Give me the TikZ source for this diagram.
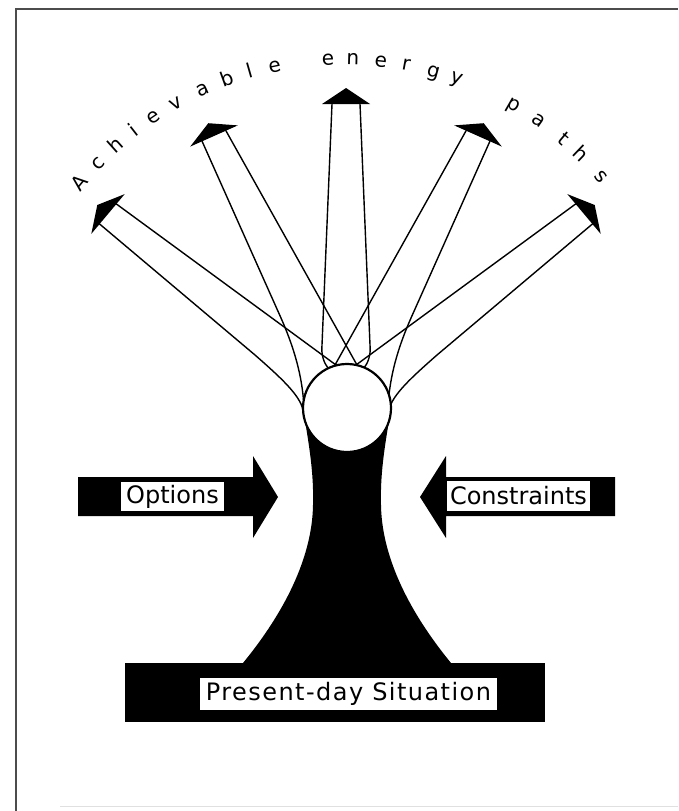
\documentclass[tikz,border=0pt]{standalone}
\usepackage{fontspec}
\setmainfont{DejaVu Sans}
\begin{document}
\begin{tikzpicture}[x=1pt,y=-1pt,
  shaft/.style={line width=1.4pt, line cap=round, line join=round},
  headfill/.style={fill=black},
  solid black/.style={fill=black},
  lblbox/.style={fill=white, inner sep=0pt, font=\fontsize{24}{26}\selectfont},
  arcletter/.style={inner sep=0pt, anchor=base, font=\fontsize{20}{22}\selectfont}
]
\useasboundingbox (0,0) rectangle (678,811);
\fill[white] (0,0) rectangle (678,811);
% frame
\draw[line width=2pt, black!70] (16,811) -- (16,9) -- (678,9);
\draw[line width=0.8pt, black!12] (60,806) -- (678,806);

% trunk
\fill[black] (303,408) .. controls (308,440) and (314,470) .. (313,505)
  .. controls (312,570) and (270,630) .. (243,663)
  -- (451,663)
  .. controls (424,630) and (382,570) .. (381,505)
  .. controls (380,470) and (386,440) .. (391,408) -- cycle;
% base bar
\fill[black] (125,663) rectangle (545,722);

% shafts - outer lines
\draw[shaft] (99.6,224) -- (255,355) .. controls (280,377) and (300,395) .. (303,410);
\draw[shaft] (202.1,141.3) -- (281,318) .. controls (292,343) and (301,370) .. (303.5,400);
\draw[shaft] (592.4,224) -- (437,355) .. controls (412,377) and (392,395) .. (389,410);
\draw[shaft] (489.9,141.3) -- (411,318) .. controls (400,343) and (391,370) .. (388.5,400);
% inner lines
\draw[shaft] (116.4,204) -- (336,365);
\draw[shaft] (575.6,204) -- (356,365);
\draw[shaft] (225.9,130.7) -- (357,365);
\draw[shaft] (466.1,130.7) -- (335,365);
% centre lines
\draw[shaft] (332,104) -- (322,345) .. controls (321,355) and (324,363) .. (328,368);
\draw[shaft] (360,104) -- (370,345) .. controls (371,355) and (368,363) .. (364,368);

% present circle
\draw[fill=white, line width=2.2pt] (347,408) circle[radius=44];

% arrow heads
\fill[headfill] (124.7,194.1) -- (97.3,205) -- (91.3,233.9) -- cycle;
\fill[headfill] (237.8,125.4) -- (208.3,123.2) -- (190.2,146.6) -- cycle;
\fill[headfill] (322,104) -- (346,88) -- (370,104) -- cycle;
\fill[headfill] (454.2,125.4) -- (483.7,123.2) -- (501.8,146.6) -- cycle;
\fill[headfill] (567.3,194.1) -- (594.7,205) -- (600.7,233.9) -- cycle;

% side arrows
\fill[solid black] (78,477) -- (253,477) -- (253,456) -- (278,497) -- (253,538) -- (253,516) -- (78,516) -- cycle;
\fill[solid black] (615,477) -- (446,477) -- (446,456) -- (420,497) -- (446,538) -- (446,516) -- (615,516) -- cycle;

% labels
\node[lblbox, minimum width=103pt, minimum height=29pt] (opt) at (172.5,496.5) {Options};
\node[lblbox, minimum width=143pt, minimum height=30pt] (con) at (518.5,496) {Constraints};
\node[lblbox, minimum width=297pt, minimum height=32pt] (pre) at (348.5,694)
  {\addfontfeature{LetterSpace=6}Present-day Situation};

% arc title
\foreach \ch/\a [count=\i] in {A/140.4, c/136.0, h/131.8, i/127.8, e/124.0, v/119.4, a/114.5, b/109.9, l/106.0, e/101.7,
  e/92.7, n/88.5, e/83.8, r/79.5, g/74.8, y/70.7,
  p/60.2, a/55.2, t/50.0, h/46.2, s/41.1}
  \node[arcletter, rotate=\a-90] (t\i) at ({344+336*cos(\a)},{401-336*sin(\a)}) {\ch};
\end{tikzpicture}
\end{document}
